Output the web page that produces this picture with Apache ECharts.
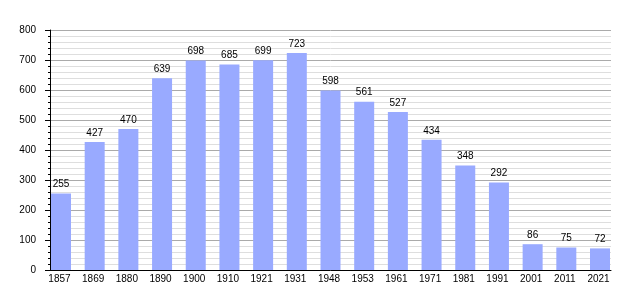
<!DOCTYPE html>
<html>
<head>
<meta charset="utf-8">
<script src="https://cdn.jsdelivr.net/npm/echarts@6/dist/echarts.min.js"></script>
<style>html,body{margin:0;padding:0;background:#fff;}#c{width:640px;height:300px;}</style>
</head>
<body>
<div id="c"></div>
<script>
var years = ['1857','1869','1880','1890','1900','1910','1921','1931','1948','1953','1961','1971','1981','1991','2001','2011','2021'];
var population = [255,427,470,639,698,685,699,723,598,561,527,434,348,292,86,75,72];
var yTicks = {min: 0, max: 800, interval: 100};

var font = 'Liberation Sans, Arial, sans-serif';
var chart = echarts.init(document.getElementById('c'), null, {renderer: 'canvas'});
chart.setOption({
  animation: false,
  backgroundColor: '#fff',
  grid: [
    {left: 50, right: 29, top: 30, bottom: 30},
    {left: 44.15, right: 23.15, top: 30, bottom: 30}
  ],
  xAxis: [
    {gridIndex: 0, type: 'value', min: 0, max: 1,
     axisLine: {show: true, onZero: false, lineStyle: {color: '#000', width: 1}},
     axisTick: {show: false}, axisLabel: {show: false}, splitLine: {show: false}},
    {gridIndex: 1, type: 'category', data: years,
     axisLine: {show: false}, axisTick: {show: false},
     axisLabel: {fontSize: 10, color: '#000', fontFamily: font, margin: 4, padding: [0, 3, 0, 0]}}
  ],
  yAxis: [
    {gridIndex: 0, type: 'value', min: yTicks.min, max: yTicks.max, interval: yTicks.interval,
     axisLine: {show: true, lineStyle: {color: '#000', width: 1}},
     axisTick: {show: true, length: 5, lineStyle: {color: '#000'}},
     minorTick: {show: true, splitNumber: 5, length: 2, lineStyle: {color: '#000'}},
     axisLabel: {fontSize: 10, color: '#000', fontFamily: font, margin: 14},
     splitLine: {show: true, lineStyle: {color: '#aaaaaa', width: 1}},
     minorSplitLine: {show: true, lineStyle: {color: '#dedede', width: 1}}},
    {gridIndex: 1, type: 'value', min: yTicks.min, max: yTicks.max, show: false, splitLine: {show: false}}
  ],
  series: [{
    type: 'bar', xAxisIndex: 1, yAxisIndex: 1,
    data: population, barWidth: 20,
    itemStyle: {color: '#99aaff'},
    label: {show: true, position: 'top', distance: 4, fontSize: 10, color: '#000', fontFamily: font}
  }]
});
</script>
</body>
</html>
